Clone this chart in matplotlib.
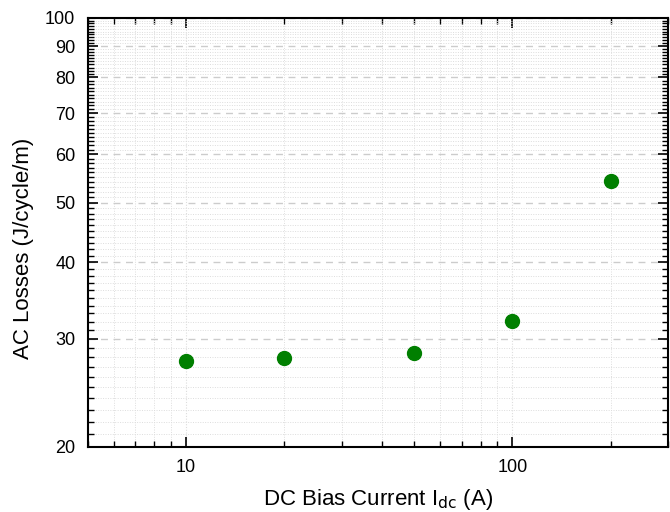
import numpy as np
import matplotlib.pyplot as plt
from matplotlib.ticker import FixedLocator, MultipleLocator, NullFormatter, LogLocator

plt.rcParams['font.family'] = ['Liberation Sans', 'DejaVu Sans']

# Data
bias_current = [10, 20, 50, 100, 200]
ac_losses = [27.6, 27.9, 28.5, 32.1, 54.3]
y_ticks = [20, 30, 40, 50, 60, 70, 80, 90, 100]

fig = plt.figure(figsize=(6.7, 5.12), dpi=100)
ax = fig.add_axes([0.131, 0.127, 0.866, 0.838])
ax.set_xscale("log")
ax.set_yscale("log")
ax.set_xlim(5, 300)
ax.set_ylim(20, 100)

# ticks
ax.xaxis.set_major_locator(FixedLocator([10, 100]))
ax.xaxis.set_minor_locator(LogLocator(base=10, subs=np.arange(2, 10)))
ax.xaxis.set_minor_formatter(NullFormatter())
ax.set_xticklabels(["10", "100"])
ax.yaxis.set_major_locator(FixedLocator(y_ticks))
ax.yaxis.set_minor_locator(MultipleLocator(1))
ax.yaxis.set_minor_formatter(NullFormatter())
ax.set_yticklabels([str(v) for v in y_ticks])

ax.tick_params(which="both", direction="in", top=True, right=True, labelsize=13, color="black")
ax.tick_params(which="major", length=7, width=1.2)
ax.tick_params(which="minor", length=4, width=1.0)
ax.tick_params(axis="x", pad=9)
ax.tick_params(axis="y", pad=9)

# grids
ax.grid(which="minor", axis="both", color="#dddddd", linestyle=(0, (1, 1.5)), linewidth=0.7)
ax.grid(which="major", axis="x", color="#dddddd", linestyle=(0, (1, 1.5)), linewidth=0.8)
ax.grid(which="major", axis="y", color="#cccccc", linestyle=(0, (5, 4)), linewidth=1.0)

for s in ax.spines.values():
    s.set_linewidth(1.5)

ax.plot(bias_current, ac_losses, "o", color="#007f00", markersize=10, zorder=3)

ax.set_ylabel("AC Losses (J/cycle/m)", fontsize=16)
ax.yaxis.set_label_coords(-0.092, 0.464)
ax.set_xlabel("DC Bias Current I$_{\\mathrm{dc}}$ (A)", fontsize=16)
ax.xaxis.set_label_coords(0.5, -0.094)
ax.xaxis.label.set_va("top")

fig.savefig("out.png", dpi=100)
